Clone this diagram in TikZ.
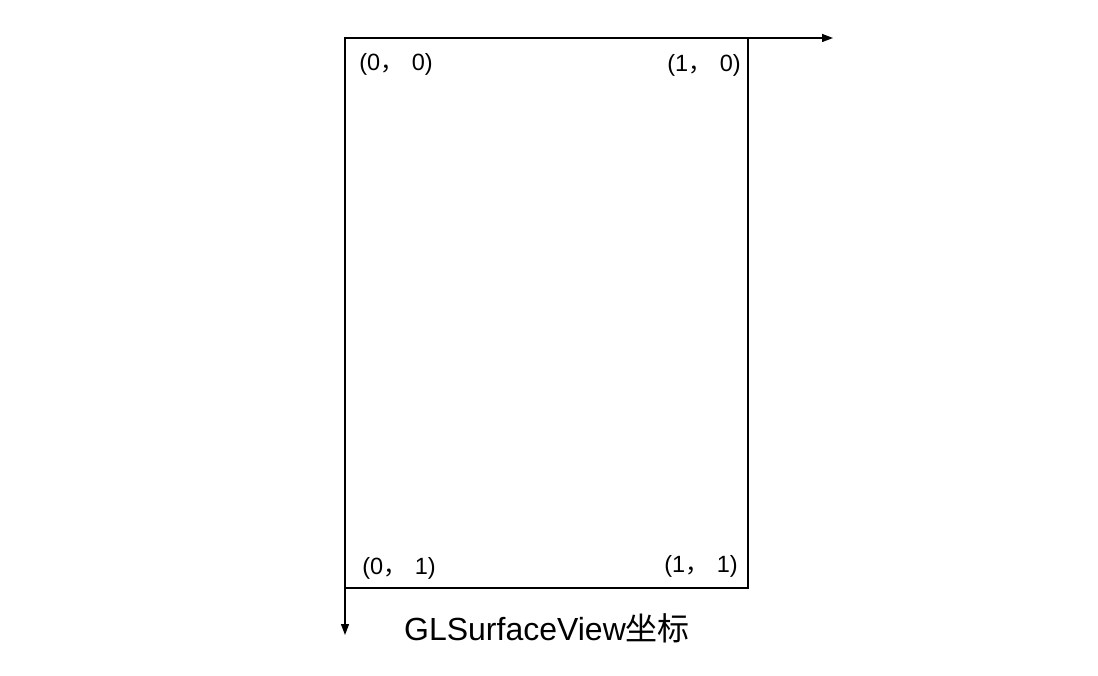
\documentclass[tikz,border=0pt]{standalone}
\usepackage{fontspec}
\setmainfont{Liberation Sans}
\newfontfamily\cjk{Noto Sans CJK SC}
\usetikzlibrary{arrows.meta}
\newcommand{\fwc}{{\cjk ，}\hspace{8pt}}
\begin{document}
\begin{tikzpicture}[x=1pt,y=-1pt,
  frame/.style={line width=1.8pt},
  axis/.style={line width=1.3pt,-{Triangle[length=11pt,width=8pt]}},
  corner/.style={inner sep=0pt,font=\fontsize{23.5}{28}\selectfont},
  title/.style={inner sep=0pt,font=\fontsize{32}{38}\selectfont}]
\useasboundingbox (0,0) rectangle (1098,676);
\coordinate (tl) at (345,38);
\coordinate (br) at (748,588);
\coordinate (bl) at (345,588);
\coordinate (tr) at (748,38);
\coordinate (xend) at (833,38);
\coordinate (yend) at (345,635);
\draw[frame] (tl) rectangle (br);
\draw[axis] (tr) -- (xend);
\draw[axis] (bl) -- (yend);
\node[corner,anchor=center] (c00) at (396,64) {(0\fwc 0)};
\node[corner,anchor=center] (c10) at (704,65) {(1\fwc 0)};
\node[corner,anchor=center] (c01) at (399,568) {(0\fwc 1)};
\node[corner,anchor=center] (c11) at (701,566) {(1\fwc 1)};
\node[title,anchor=center] (t) at (547,628) {GLSurfaceView{\cjk 坐标}};
\end{tikzpicture}
\end{document}
